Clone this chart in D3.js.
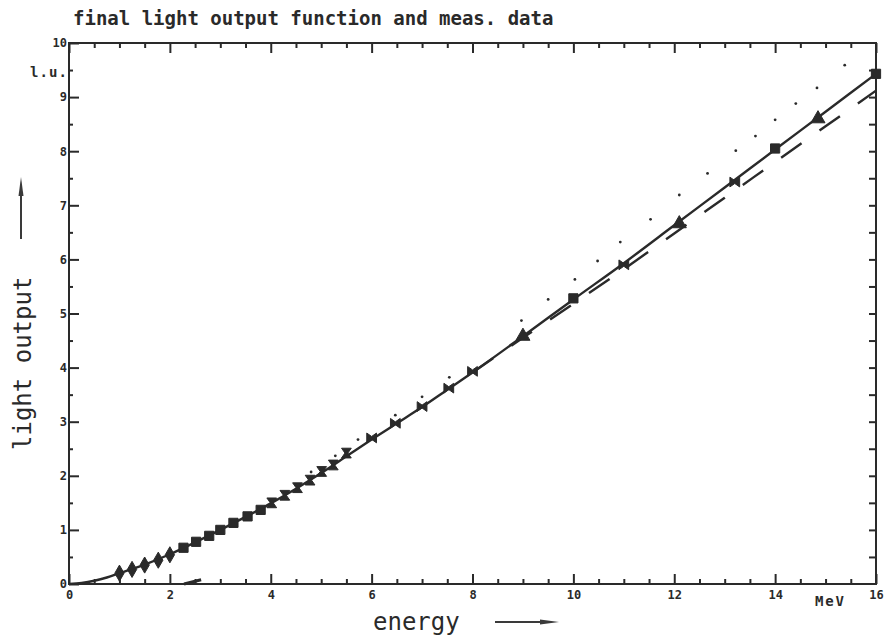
<!DOCTYPE html>
<html>
<head>
<meta charset="utf-8">
<script src="https://cdn.jsdelivr.net/npm/d3@7"></script>
<style>
  html, body { margin: 0; padding: 0; background: #fff; }
  svg { display: block; }
  text { font-family: "DejaVu Sans Mono", "Liberation Mono", monospace; fill: #2a2a2a; }
</style>
</head>
<body>
<svg id="chart" width="884" height="638"></svg>
<script>
// Final light output function L(E)
const fnEnergy = [0, 0.25, 0.5, 0.75, 1, 1.5, 2, 2.5, 3, 3.5, 4, 4.5, 5, 5.5, 6, 6.5, 7, 7.5, 8, 9, 10, 11, 12, 13, 14, 15, 16];
const fnLight  = [0, 0.02, 0.06, 0.12, 0.2, 0.36, 0.55, 0.77, 1.0, 1.24, 1.49, 1.76, 2.05, 2.36, 2.67, 2.97, 3.27, 3.59, 3.91, 4.58, 5.26, 5.93, 6.63, 7.33, 8.03, 8.73, 9.43];

// Alternative (lower) parametrisation, dashed
const dashEnergy = [8, 9, 10, 11, 12, 13, 14, 15, 16];
const dashLight  = [3.91, 4.55, 5.18, 5.82, 6.48, 7.14, 7.8, 8.46, 9.12];
const stubEnergy = [2.28, 2.62];
const stubLight  = [0.0, 0.08];

// Upper parametrisation, plotted as single dots
const dotEnergy = [4.8, 5.28, 5.73, 6.47, 7.0, 7.54, 8.97, 9.5, 10.03, 10.48, 10.93, 11.53, 12.1, 12.66, 13.22, 13.61, 14.0, 14.41, 14.83, 15.38];
const dotLight  = [2.07, 2.37, 2.67, 3.12, 3.46, 3.82, 4.87, 5.26, 5.63, 5.97, 6.32, 6.74, 7.19, 7.59, 8.01, 8.28, 8.58, 8.88, 9.17, 9.59];

// Measured data, one array pair per data set
const setAEnergy = [1.0, 1.25, 1.5, 1.77, 2.0];
const setALight  = [0.2, 0.27, 0.35, 0.44, 0.54];
const setBEnergy = [2.27, 2.52, 2.78, 3.0, 3.26, 3.54, 3.8];
const setBLight  = [0.67, 0.78, 0.89, 1.0, 1.13, 1.25, 1.37];
const setCEnergy = [4.02, 4.28, 4.53, 4.78, 5.01, 5.24, 5.5];
const setCLight  = [1.5, 1.64, 1.78, 1.92, 2.08, 2.2, 2.42];
const setDEnergy = [6.0, 6.47, 7.0, 7.53, 8.0, 11.0, 13.2];
const setDLight  = [2.7, 2.97, 3.28, 3.62, 3.93, 5.9, 7.43];
const setEEnergy = [9.0, 12.1, 14.85];
const setELight  = [4.58, 6.66, 8.6];
const setFEnergy = [10.0, 14.0, 16.0];
const setFLight  = [5.28, 8.05, 9.43];

// Axis ticks
const xMajor = [0, 2, 4, 6, 8, 10, 12, 14, 16];
const xMinor = d3.range(0, 16.01, 0.5).filter(v => v % 2 !== 0);
const yMajor = [0, 1, 2, 3, 4, 5, 6, 7, 8, 9, 10];
const yMinor = d3.range(0.5, 10, 1);
const yRight = d3.range(0.5, 10, 0.5);

const titleText = "final light output function and meas. data";
const xTitle = "energy";
const yTitle = "light output";
const xUnit = "MeV";
const yUnit = "l.u.";

const svg = d3.select("#chart");
const ink = "#2a2a2a";

const x = d3.scaleLinear().domain([0, 16]).range([69, 876]);
const y = d3.scaleLinear().domain([0, 10]).range([584, 43]);

const zip = (a, b) => a.map((v, i) => [v, b[i]]);

// ---- axes ----
function styleAxis(g) {
  g.select(".domain").remove();
  g.selectAll(".tick line").attr("stroke", ink).attr("stroke-width", 2);
  g.selectAll(".tick text")
    .attr("font-family", "DejaVu Sans Mono, monospace")
    .attr("font-weight", "bold")
    .attr("font-size", 12)
    .attr("fill", ink);
}

// bottom
svg.append("g").attr("transform", `translate(0,${y(0)})`)
  .call(d3.axisBottom(x).tickValues(xMajor).tickSizeInner(-10).tickSizeOuter(0).tickPadding(6).tickFormat(d3.format("d")))
  .call(styleAxis);
svg.append("g").attr("transform", `translate(0,${y(0)})`)
  .call(d3.axisBottom(x).tickValues(xMinor).tickSizeInner(-5).tickSizeOuter(0).tickFormat(""))
  .call(styleAxis);
// top
svg.append("g").attr("transform", `translate(0,${y(10)})`)
  .call(d3.axisTop(x).tickValues(xMajor).tickSizeInner(-10).tickSizeOuter(0).tickFormat(""))
  .call(styleAxis);
svg.append("g").attr("transform", `translate(0,${y(10)})`)
  .call(d3.axisTop(x).tickValues(xMinor).tickSizeInner(-5).tickSizeOuter(0).tickFormat(""))
  .call(styleAxis);
// left
svg.append("g").attr("transform", `translate(${x(0)},0)`)
  .call(d3.axisLeft(y).tickValues(yMajor).tickSizeInner(-10).tickSizeOuter(0).tickPadding(2).tickFormat(d3.format("d")))
  .call(styleAxis);
svg.append("g").attr("transform", `translate(${x(0)},0)`)
  .call(d3.axisLeft(y).tickValues(yMinor).tickSizeInner(-4).tickSizeOuter(0).tickFormat(""))
  .call(styleAxis);
// right
svg.append("g").attr("transform", `translate(${x(16)},0)`)
  .call(d3.axisRight(y).tickValues(yRight).tickSizeInner(-7).tickSizeOuter(0).tickFormat(""))
  .call(styleAxis);

// frame
svg.append("rect")
  .attr("x", x(0)).attr("y", y(10))
  .attr("width", x(16) - x(0)).attr("height", y(0) - y(10))
  .attr("fill", "none").attr("stroke", ink).attr("stroke-width", 2);

// ---- curves ----
const line = d3.line().x(d => x(d[0])).y(d => y(d[1])).curve(d3.curveMonotoneX);

svg.append("path").datum(zip(fnEnergy, fnLight))
  .attr("d", line).attr("fill", "none").attr("stroke", ink).attr("stroke-width", 2.4);

svg.append("path").datum(zip(dashEnergy, dashLight))
  .attr("d", line).attr("fill", "none").attr("stroke", ink).attr("stroke-width", 2.4)
  .attr("stroke-dasharray", "25 22");

svg.append("path").datum(zip(stubEnergy, stubLight))
  .attr("d", line).attr("fill", "none").attr("stroke", ink).attr("stroke-width", 3);

svg.append("g").selectAll("circle").data(zip(dotEnergy, dotLight)).join("circle")
  .attr("cx", d => x(d[0])).attr("cy", d => y(d[1])).attr("r", 1.4).attr("fill", ink);

// ---- measured points ----
const hourglass = {
  draw(ctx, size) {
    const r = Math.sqrt(size) / 2;
    ctx.moveTo(-r, -r); ctx.lineTo(r, -r); ctx.lineTo(r * 0.3, 0); ctx.lineTo(r, r);
    ctx.lineTo(-r, r); ctx.lineTo(-r * 0.3, 0); ctx.closePath();
  }
};
const bowtie = {
  draw(ctx, size) {
    const r = Math.sqrt(size) / 2;
    ctx.moveTo(-r, -r); ctx.lineTo(0, -r * 0.3); ctx.lineTo(r, -r); ctx.lineTo(r, r);
    ctx.lineTo(0, r * 0.3); ctx.lineTo(-r, r); ctx.closePath();
  }
};

const sets = [
  { e: setAEnergy, l: setALight, type: d3.symbolDiamond, size: 75 },
  { e: setBEnergy, l: setBLight, type: d3.symbolSquare, size: 85 },
  { e: setCEnergy, l: setCLight, type: hourglass, size: 95 },
  { e: setDEnergy, l: setDLight, type: bowtie, size: 95 },
  { e: setEEnergy, l: setELight, type: d3.symbolTriangle, size: 85 },
  { e: setFEnergy, l: setFLight, type: d3.symbolSquare, size: 85 }
];

sets.forEach(s => {
  svg.append("g").selectAll("path").data(zip(s.e, s.l)).join("path")
    .attr("transform", d => `translate(${x(d[0])},${y(d[1])})`)
    .attr("d", d3.symbol().type(s.type).size(s.size))
    .attr("fill", ink).attr("stroke", ink).attr("stroke-width", 1);
});

// ---- texts ----
svg.append("text").attr("x", 73).attr("y", 25)
  .attr("font-size", 19).attr("font-weight", "bold").attr("fill", ink)
  .text(titleText);

svg.append("text").attr("x", 30).attr("y", 77)
  .attr("font-size", 14).attr("font-weight", "bold").attr("fill", ink)
  .attr("textLength", 37).attr("lengthAdjust", "spacing")
  .text(yUnit);

svg.append("text").attr("x", 815).attr("y", 606)
  .attr("font-size", 14).attr("font-weight", "bold").attr("fill", ink)
  .attr("textLength", 29).attr("lengthAdjust", "spacing")
  .text(xUnit);

svg.append("text").attr("x", 373).attr("y", 630)
  .attr("font-size", 24).attr("fill", "#3a3a3a")
  .text(xTitle);

svg.append("text")
  .attr("transform", "translate(31,450) rotate(-90)")
  .attr("font-size", 24).attr("fill", "#3a3a3a")
  .text(yTitle);

// arrows beside the axis titles
const arrowX = d3.path();
arrowX.moveTo(495, 622); arrowX.lineTo(545, 622);
svg.append("path").attr("d", arrowX.toString()).attr("stroke", "#3a3a3a").attr("stroke-width", 2);
svg.append("path").attr("d", "M540,619.5 L559,622 L540,624.5 Z").attr("fill", "#3a3a3a");

const arrowY = d3.path();
arrowY.moveTo(21, 239); arrowY.lineTo(21, 192);
svg.append("path").attr("d", arrowY.toString()).attr("stroke", "#3a3a3a").attr("stroke-width", 2);
svg.append("path").attr("d", "M18.5,196 L21,177 L23.5,196 Z").attr("fill", "#3a3a3a");
</script>
</body>
</html>
